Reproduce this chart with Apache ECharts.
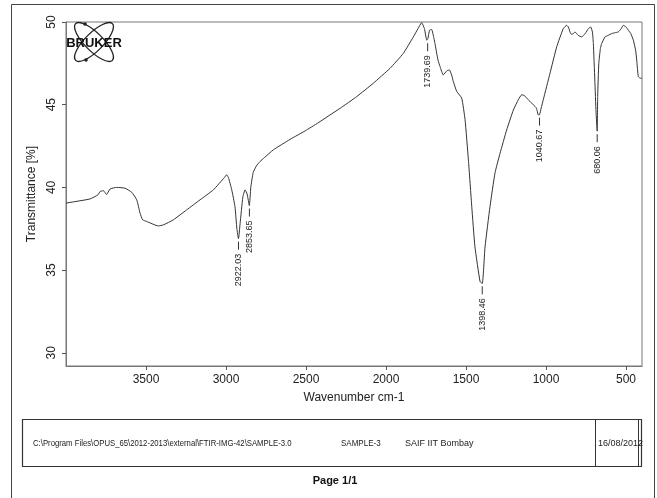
<!DOCTYPE html>
<html>
<head>
<meta charset="utf-8">
<script src="https://cdn.jsdelivr.net/npm/echarts@6/dist/echarts.min.js"></script>
<style>
html,body{margin:0;padding:0;background:#fff;}
#c{width:657px;height:498px;}
</style>
</head>
<body>
<div id="c"></div>
<script>
// Spectrum (wavenumber cm-1, transmittance %)
const wavenumber = [4000,3912,3850,3800,3787,3766,3746,3725,3683,3631,3589,3558,3537,3521,3496,3423,3392,3329,3246,3162,3079,3010,2996,2985,2964,2944,2932,2922,2912,2895,2881,2868,2854,2845,2830,2810,2788,2760,2704,2600,2496,2412,2350,2287,2183,2079,1975,1892,1829,1800,1777,1760,1745,1738,1728,1715,1700,1694,1675,1662,1642,1620,1604,1590,1579,1558,1527,1506,1485,1464,1444,1412,1398,1381,1350,1319,1287,1246,1204,1173,1152,1135,1121,1100,1079,1060,1048,1040,1030,1017,975,933,892,871,860,850,840,829,819,800,777,755,735,721,710,704,695,687,680,677,670,660,652,631,610,589,570,548,530,517,500,485,470,454,440,433,423,410,400];
const transmittance = [39.05,39.19,39.3,39.55,39.75,39.8,39.57,39.9,40.0,39.95,39.7,39.25,38.44,38.04,37.94,37.67,37.73,38.04,38.64,39.25,39.85,40.6,40.76,40.6,39.85,38.84,37.5,36.9,37.8,39.4,39.85,39.6,38.9,40.0,40.9,41.3,41.56,41.8,42.27,42.9,43.47,43.98,44.38,44.78,45.49,46.3,47.2,48.1,49.1,49.6,49.96,49.6,48.9,49.0,49.5,49.55,49.0,48.7,47.7,47.3,46.8,47.05,47.1,46.8,46.4,45.8,45.4,44.1,41.66,38.84,36.4,34.3,34.2,36.4,38.84,40.86,42.07,43.47,44.68,45.3,45.6,45.55,45.4,45.2,44.99,44.8,44.38,44.4,44.8,45.3,46.9,48.5,49.6,49.8,49.7,49.4,49.25,49.3,49.4,49.2,49.1,49.3,49.6,49.7,49.4,48.7,46.5,44.5,43.4,45.5,47.5,48.4,48.7,49.1,49.2,49.3,49.35,49.4,49.6,49.8,49.7,49.5,49.3,48.9,48.3,47.7,46.7,46.6,46.6];

// Peak picks
const peakWavenumber = [2922.03,2853.65,1739.69,1398.46,1040.67,680.06];
const peakTransmittance = [36.9,38.9,48.9,34.2,44.4,43.4];
const peakLabels = ['2922.03','2853.65','1739.69','1398.46','1040.67','680.06'];

// Axis ticks
const xTicks = [500,1000,1500,2000,2500,3000,3500];
const yTicks = [30,35,40,45,50];

// Footer texts
const footerPath = 'C:\\Program Files\\OPUS_65\\2012-2013\\external\\FTIR-IMG-42\\SAMPLE-3.0';
const footerSample = 'SAMPLE-3';
const footerLab = 'SAIF IIT Bombay';
const footerDate = '16/08/2012';
const pageText = 'Page 1/1';

const FONT = 'Liberation Sans, Arial, sans-serif';

const chart = echarts.init(document.getElementById('c'), null, {renderer:'canvas'});

const spectrum = wavenumber.map((w,i)=>[w, transmittance[i]]);
const peaks = peakWavenumber.map((w,i)=>[w, peakTransmittance[i]]);

const option = {
  backgroundColor: '#fff',
  animation: false,
  grid: {left: 66, top: 22, right: 15, bottom: 132, show: true, borderColor: '#777', borderWidth: 1},
  xAxis: {
    type: 'value', min: 400, max: 4000, inverse: true,
    name: 'Wavenumber cm-1', nameLocation: 'middle', nameGap: 26,
    nameTextStyle: {fontFamily: FONT, fontSize: 12, color: '#222'},
    axisLine: {show: true, lineStyle: {color: '#777'}},
    axisTick: {show: true, inside: false, length: 4, customValues: xTicks, lineStyle: {color: '#555'}},
    axisLabel: {customValues: xTicks, margin: 8, fontFamily: FONT, fontSize: 12, color: '#222',
                formatter: function(v){ return String(v); }},
    splitLine: {show: false}
  },
  yAxis: {
    type: 'value', min: 29.2, max: 50,
    name: 'Transmittance [%]', nameLocation: 'middle', nameGap: 27, nameRotate: 90,
    nameTextStyle: {fontFamily: FONT, fontSize: 12, color: '#222'},
    axisLine: {show: true, lineStyle: {color: '#777'}},
    axisTick: {show: true, inside: false, length: 4, customValues: yTicks, lineStyle: {color: '#555'}},
    axisLabel: {customValues: yTicks, rotate: 90, margin: 8, fontFamily: FONT, fontSize: 12, color: '#222',
                formatter: function(v){ return String(v); }},
    splitLine: {show: false}
  },
  series: [
    {
      type: 'line', data: spectrum, showSymbol: false, smooth: 0.15,
      lineStyle: {color: '#333', width: 1}, z: 3
    },
    {
      type: 'custom', data: peaks, z: 4,
      renderItem: function(params, api){
        const p = api.coord([api.value(0), api.value(1)]);
        return {
          type: 'group',
          children: [
            {type: 'line', shape: {x1: p[0], y1: p[1]+3, x2: p[0], y2: p[1]+11}, style: {stroke: '#333', lineWidth: 1}},
            {type: 'text', x: p[0], y: p[1]+15, rotation: Math.PI/2,
             style: {text: peakLabels[params.dataIndex], x: 0, y: 0, align: 'right', verticalAlign: 'middle',
                     font: '9px ' + FONT, fill: '#222'}}
          ]
        };
      }
    }
  ],
  graphic: [
    {type: 'rect', shape: {x: 11.5, y: 4.5, width: 643, height: 510}, style: {fill: 'none', stroke: '#444', lineWidth: 1}, silent: true},
    // BRUKER logo
    {type: 'group', x: 94, y: 42, children: [
      {type: 'ellipse', shape: {cx: 0, cy: 0, rx: 26, ry: 9}, rotation: Math.PI/4, style: {fill: 'none', stroke: '#222', lineWidth: 1.3}},
      {type: 'ellipse', shape: {cx: 0, cy: 0, rx: 26, ry: 9}, rotation: -Math.PI/4, style: {fill: 'none', stroke: '#222', lineWidth: 1.3}},
      {type: 'circle', shape: {cx: -9, cy: -18, r: 1.8}, style: {fill: '#222'}},
      {type: 'circle', shape: {cx: -8, cy: 18, r: 1.8}, style: {fill: '#222'}},
      {type: 'text', x: 0, y: 1, style: {text: 'BRUKER', font: 'bold 13px ' + FONT, fill: '#111', align: 'center', verticalAlign: 'middle'}}
    ]},
    // Footer box
    {type: 'rect', shape: {x: 22.5, y: 419.5, width: 619, height: 47}, style: {fill: 'none', stroke: '#333', lineWidth: 1.2}},
    {type: 'line', shape: {x1: 595.5, y1: 419.5, x2: 595.5, y2: 466.5}, style: {stroke: '#333', lineWidth: 1}},
    {type: 'line', shape: {x1: 638.5, y1: 419.5, x2: 638.5, y2: 466.5}, style: {stroke: '#333', lineWidth: 1}},
    {type: 'text', x: 33, y: 444, scaleX: 0.86, style: {text: footerPath, font: '9px ' + FONT, fill: '#222', verticalAlign: 'middle'}},
    {type: 'text', x: 341, y: 444, scaleX: 0.89, style: {text: footerSample, font: '9px ' + FONT, fill: '#222', verticalAlign: 'middle'}},
    {type: 'text', x: 405, y: 444, style: {text: footerLab, font: '9px ' + FONT, fill: '#222', verticalAlign: 'middle'}},
    {type: 'text', x: 598, y: 444, style: {text: footerDate, font: '9px ' + FONT, fill: '#222', verticalAlign: 'middle'}},
    {type: 'text', x: 335, y: 481, style: {text: pageText, font: 'bold 11px ' + FONT, fill: '#111', align: 'center', verticalAlign: 'middle'}}
  ]
};
chart.setOption(option);
</script>
</body>
</html>
